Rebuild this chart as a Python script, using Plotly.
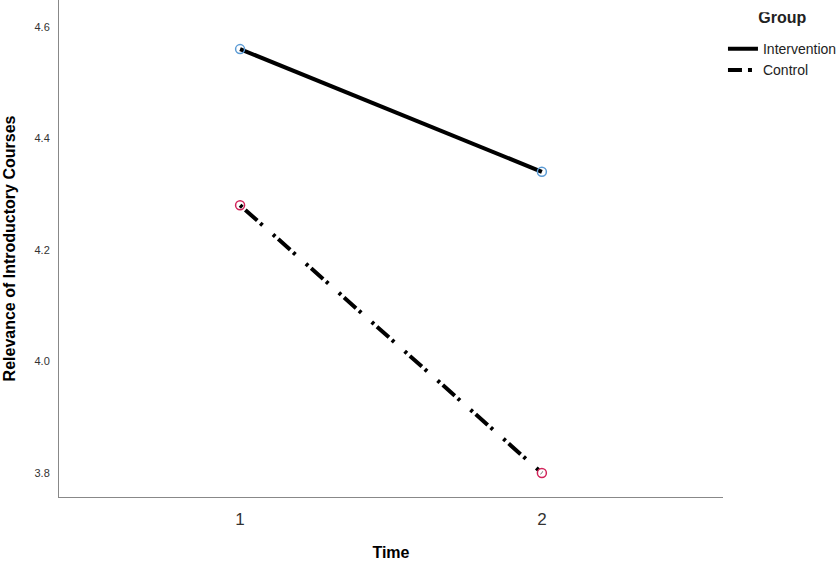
import plotly.graph_objects as go

time_points = [1, 2]
intervention = [4.56, 4.34]
control = [4.28, 3.80]
y_ticks = [3.8, 4.0, 4.2, 4.4, 4.6]
y_tick_labels = ["3.8", "4.0", "4.2", "4.4", "4.6"]

ctrl_dash = "3px,4px,16px,4px,3px,14px"

fig = go.Figure()
fig.add_trace(go.Scatter(
    x=time_points, y=intervention, name="Intervention", mode="lines+markers",
    line=dict(color="black", width=4), showlegend=False,
    marker=dict(symbol="circle-open", size=9, color="#5b9bd5", line=dict(width=1.5, color="#5b9bd5")),
))
fig.add_trace(go.Scatter(
    x=time_points, y=control, name="Control", mode="lines+markers",
    line=dict(color="black", width=4, dash=ctrl_dash), showlegend=False,
    marker=dict(symbol="circle-open", size=9, color="#d2245a", line=dict(width=1.5, color="#d2245a")),
))
# legend entries (lines only)
fig.add_trace(go.Scatter(x=[None], y=[None], name="Intervention", mode="lines",
                         line=dict(color="black", width=4)))
fig.add_trace(go.Scatter(x=[None], y=[None], name="Control", mode="lines",
                         line=dict(color="black", width=4, dash="14px,6px,4px,30px")))

fig.update_layout(
    width=839, height=561,
    margin=dict(l=59, r=116, t=0, b=64),
    plot_bgcolor="white", paper_bgcolor="white",
    font=dict(family="Arial, Liberation Sans, sans-serif", color="black"),
    legend=dict(
        title=dict(text="<span style='font-size:16px'><b>Group</b></span><br> ",
                   font=dict(size=8), side="top center"),
        xref="container", yref="container",
        x=0.8617, xanchor="left", y=0.978, yanchor="top",
        font=dict(size=14, color="#222"), itemwidth=30, tracegroupgap=0,
        bgcolor="rgba(0,0,0,0)",
    ),
    xaxis=dict(
        range=[0.4, 2.6], tickvals=time_points, ticktext=["1", "2"],
        tickfont=dict(size=17, color="#333"), showgrid=False, zeroline=False,
        showline=True, linecolor="#888", linewidth=1, ticks="",
        ticklabelstandoff=7, automargin=False,
        title=dict(text="<b>Time</b>", font=dict(size=16), standoff=22),
    ),
    yaxis=dict(
        range=[3.757, 4.648], tickvals=y_ticks, ticktext=y_tick_labels,
        tickfont=dict(size=11, color="#333"), showgrid=False, zeroline=False,
        showline=True, linecolor="#888", linewidth=1, ticks="",
        ticklabelstandoff=6, automargin=False,
        title=dict(text="<b>Relevance of Introductory Courses</b>", font=dict(size=16), standoff=14),
    ),
)

fig.write_html("out.html", config={"displayModeBar": False},
               post_script="document.body.style.margin='0';document.body.style.padding='0';")
